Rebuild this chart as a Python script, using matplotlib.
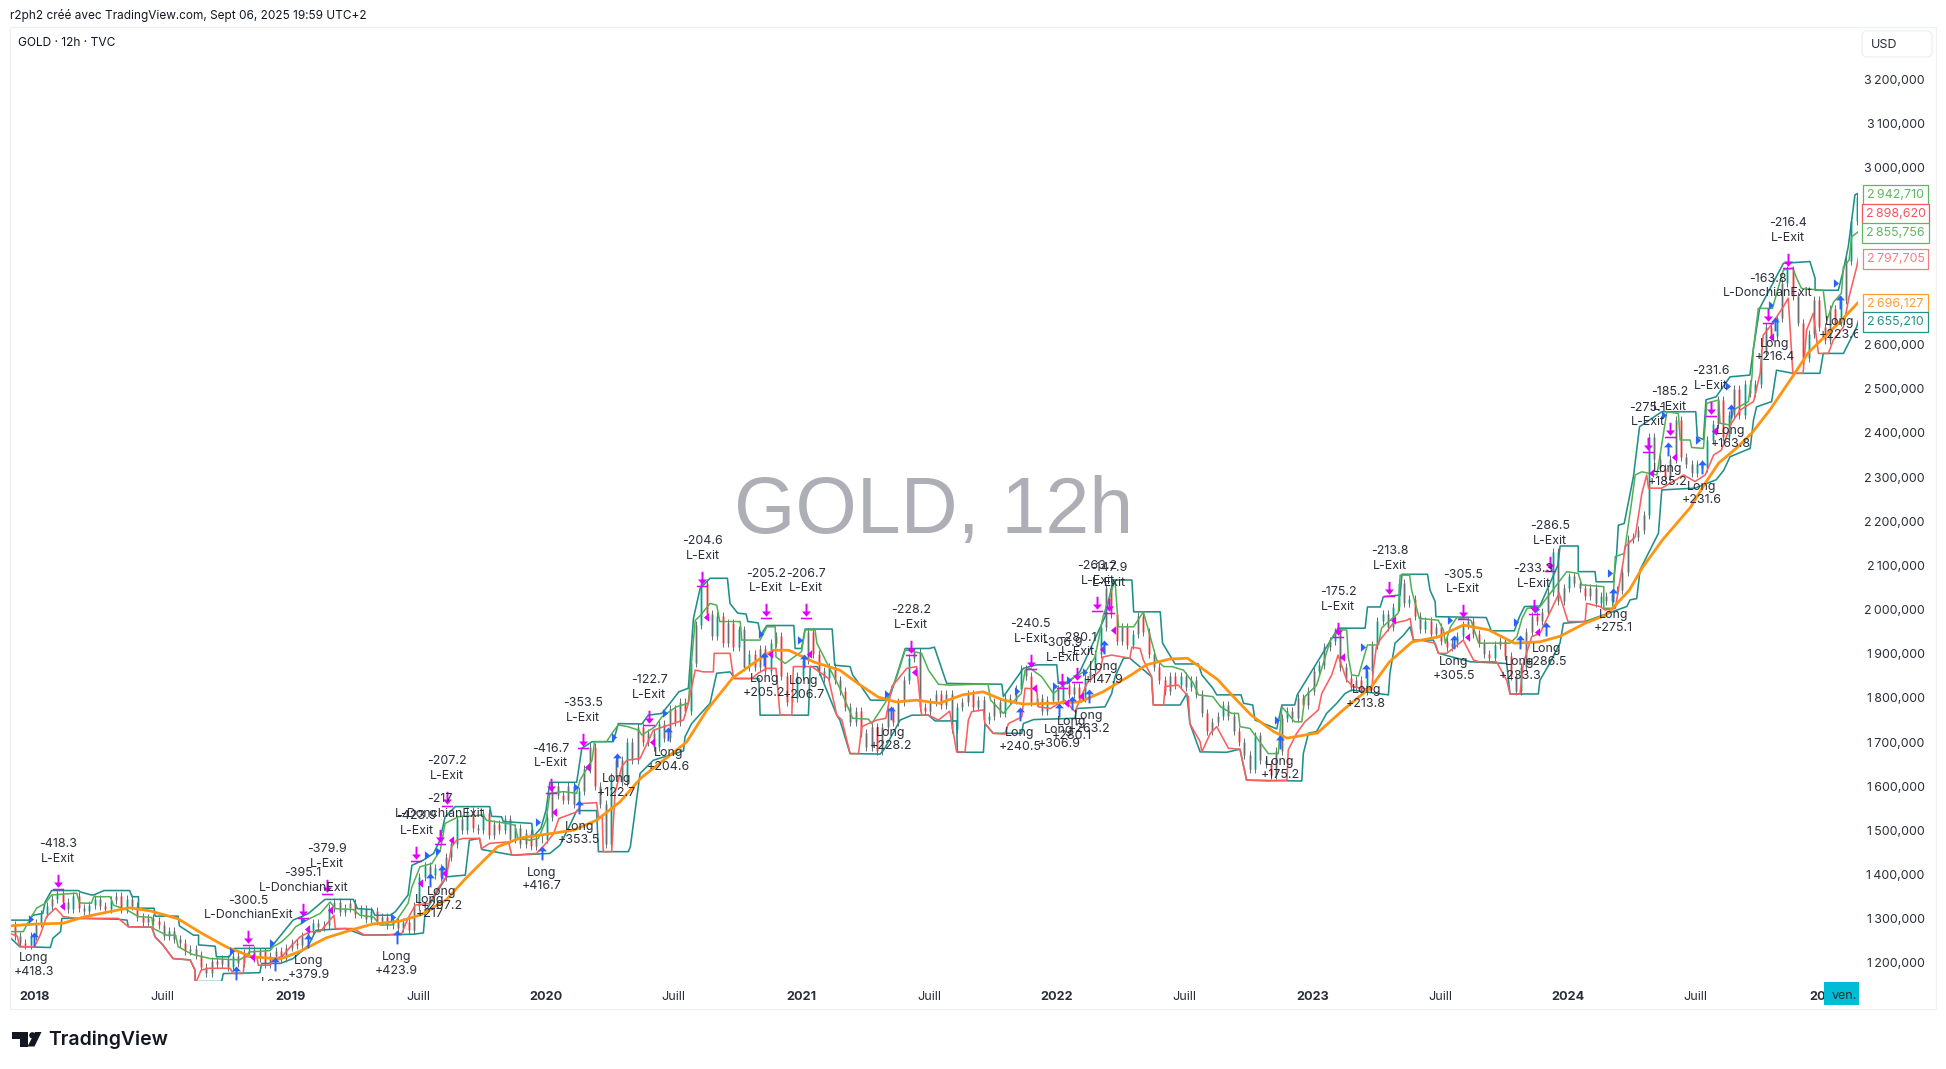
import numpy as np
import matplotlib
matplotlib.use('Agg')
import matplotlib.pyplot as plt
from matplotlib.path import Path
from matplotlib.patches import Rectangle, FancyBboxPatch, Circle, Polygon
from matplotlib.transforms import IdentityTransform

W, H = 1946, 1069
FONT = 'Inter'
plt.rcParams['font.family'] = [FONT, 'DejaVu Sans']

# ---- closing prices, four per month from the left edge of the chart
closes = [
 1285,1262,1245,1240, 1262,1290,1312,1330, 1345,1358,1338,1322, 1352,1325,1318,1332,
 1345,1328,1322,1342, 1352,1322,1345,1330, 1305,1292,1302,1295, 1285,1262,1272,1255,
 1245,1228,1232,1218, 1192,1178,1205,1198, 1208,1190,1215,1200, 1222,1230,1212,1226,
 1198,1215,1228,1212, 1235,1245,1240,1262, 1275,1290,1282,1285, 1325,1338,1315,1325,
 1335,1310,1322,1300, 1318,1295,1305,1285, 1298,1280,1292,1275, 1330,1395,1420,1400,
 1415,1395,1440,1470, 1525,1500,1545,1505, 1500,1540,1490,1515, 1500,1525,1480,1505,
 1470,1495,1465,1480, 1480,1530,1600,1580, 1570,1600,1560,1590, 1640,1690,1600,1560,
 1470,1620,1660,1610, 1700,1660,1735,1700, 1720,1690,1740,1710, 1775,1745,1790,1770,
 1880,1965,2060,1990, 1940,1985,1925,1970, 1915,1955,1870,1900, 1870,1910,1860,1925,
 1940,1850,1790,1800, 1850,1885,1950,1900, 1860,1845,1870,1840, 1815,1780,1745,1770,
 1720,1690,1735,1680, 1735,1770,1745,1790, 1840,1890,1905,1780, 1770,1790,1810,1785,
 1810,1730,1780,1790, 1810,1780,1795,1750, 1760,1790,1765,1800, 1795,1820,1865,1850,
 1790,1800,1770,1795, 1820,1795,1830,1810, 1825,1800,1845,1860, 1900,1960,2050,1990,
 1930,1960,1920,1945, 1985,1950,1900,1870, 1840,1815,1850,1830, 1850,1825,1840,1810,
 1765,1725,1745,1760, 1785,1760,1725,1700, 1670,1640,1715,1660, 1650,1625,1680,1755,
 1770,1755,1800,1785, 1815,1860,1875,1915, 1930,1950,1870,1845, 1825,1840,1815,1860,
 1920,1975,1990,1960, 2005,2060,2015,2025, 1985,1955,1975,1945, 1960,1930,1915,1925,
 1940,1965,1975,1945, 1925,1900,1890,1920, 1930,1895,1850,1815, 1870,1950,1985,1975,
 1995,2040,2130,2020, 2050,2075,2060,2050, 2030,2050,2015,2030, 2020,2035,2045,2085,
 2160,2165,2180,2215, 2390,2340,2320,2300, 2340,2430,2345,2330, 2310,2330,2320,2385,
 2420,2475,2390,2440, 2500,2440,2510,2490, 2510,2580,2640,2620, 2660,2740,2770,2710,
 2650,2570,2625,2700, 2640,2610,2680,2650, 2700,2790,2880,2935, 2898.62,
]
first_time = 2017.9
bars_per_year = 48

# ---- orange moving average
ma_t = [2017.90,2018.0,2018.11,2018.19,2018.29,2018.37,2018.45,2018.56,2018.65,2018.75,2018.85,2018.96,
        2019.04,2019.14,2019.24,2019.32,2019.43,2019.51,2019.61,2019.68,2019.81,2019.90,2020.03,2020.11,
        2020.20,2020.29,2020.37,2020.55,2020.63,2020.73,2020.84,2020.89,2020.95,2021.05,2021.15,2021.23,
        2021.30,2021.37,2021.45,2021.54,2021.63,2021.71,2021.79,2021.87,2021.98,2022.09,2022.18,2022.29,
        2022.35,2022.44,2022.51,2022.56,2022.63,2022.68,2022.76,2022.85,2022.90,2023.02,2023.12,2023.23,
        2023.30,2023.39,2023.49,2023.59,2023.69,2023.79,2023.89,2023.97,2024.07,2024.15,2024.24,2024.29,
        2024.37,2024.48,2024.54,2024.59,2024.66,2024.72,2024.79,2024.87,2024.94,2024.99,2025.06,2025.137]
ma_p = [1284,1288,1290,1304,1316,1325,1318,1300,1268,1236,1214,1209,
        1227,1257,1275,1288,1295,1309,1343,1388,1463,1483,1494,1501,
        1524,1565,1618,1700,1773,1845,1890,1908,1908,1881,1863,1829,
        1802,1791,1795,1788,1807,1814,1795,1786,1788,1791,1814,1852,
        1875,1888,1890,1870,1841,1809,1761,1723,1709,1721,1773,1825,
        1881,1927,1938,1965,1954,1924,1927,1940,1970,1988,2044,2094,
        2158,2232,2289,2332,2366,2400,2452,2520,2581,2610,2649,2696.127]

# ---- upper channel (teal)
up_t = [2017.90,2017.98,2017.99,2018.03,2018.04,2018.065,2018.17,2018.176,2018.22,2018.23,2018.27,2018.37,2018.38,2018.405,2018.405,2018.466,2018.47,2018.56,2018.565,2018.62,2018.64,2018.64,2018.705,2018.71,2018.76,2018.78,2018.92,2019.01,
        2019.07,2019.135,2019.246,2019.262,2019.32,2019.33,2019.39,2019.41,2019.43,2019.46,2019.475,2019.52,2019.56,2019.585,2019.605,2019.645,2019.78,2019.787,2019.826,2019.833,2019.944,2019.95,2019.98,2020.0,2020.015,2020.12,2020.14,2020.18,2020.263,2020.283,2020.375,
        2020.40,2020.453,2020.48,2020.52,2020.557,2020.577,2020.603,2020.642,2020.71,2020.72,2020.75,2020.783,2020.79,2020.83,2020.84,2020.864,2020.97,2020.975,2021.0,2021.014,2021.12,2021.13,2021.19,2021.2,2021.23,2021.27,2021.33,2021.35,2021.406,2021.50,
        2021.52,2021.568,2021.784,2021.79,2021.868,2021.92,2021.999,2022.005,2022.04,2022.09,2022.188,2022.22,2022.293,2022.30,2022.404,2022.413,2022.462,2022.553,2022.567,2022.61,2022.625,2022.72,2022.73,2022.766,2022.775,2022.86,2022.88,2022.93,2022.94,
        2023.10,2023.206,2023.215,2023.265,2023.277,2023.343,2023.35,2023.45,2023.46,2023.48,2023.483,2023.68,2023.70,2023.79,2023.81,2023.83,2023.89,2023.96,2023.969,2024.04,2024.04,2024.106,2024.11,2024.178,2024.19,2024.197,2024.22,2024.256,2024.28,2024.367,2024.50,2024.506,2024.53,2024.54,2024.58,2024.634,2024.712,2024.725,2024.75,2024.843,2024.947,2024.967,2024.967,2025.058,2025.078,2025.097,2025.123,2025.137]
up_p = [1297,1297,1308,1312,1339,1364,1364,1361,1354,1354,1364,1364,1350,1350,1324,1324,1306,1306,1284,1263,1263,1241,1238,1214,1214,1233,1233,1297,
        1312,1344,1344,1323,1321,1308,1308,1316,1331,1354,1421,1433,1448,1478,1531,1554,1554,1532,1531,1520,1516,1486,1505,1546,1609,1609,1686,1701,1701,1742,1741,
        1761,1765,1784,1814,1822,1980,2048,2071,2071,2014,1992,1990,1973,1970,1942,1964,1964,1912,1912,1956,1956,1874,1871,1852,1829,1795,1795,1810,1912,1912,
        1915,1833,1831,1803,1867,1875,1875,1833,1833,1860,1984,2067,2067,1995,1995,1924,1877,1877,1852,1822,1807,1807,1788,1784,1750,1730,1784,1784,1807,
        1958,1958,2006,2006,2029,2033,2080,2080,2044,2018,1984,1982,1952,1952,1984,2007,2008,2100,2144,2144,2086,2086,2063,2063,2124,2191,2195,2301,2414,2448,2448,2391,2385,2475,2482,2527,2531,2588,2682,2784,2788,2750,2723,2723,2769,2822,2939,2942.71]

# ---- inner line (green)
mid_t = [2017.90,2017.954,2017.974,2018.006,2018.04,2018.065,2018.163,2018.174,2018.22,2018.23,2018.294,2018.307,2018.36,2018.405,2018.457,2018.463,2018.515,2018.55,2018.56,2018.613,2018.685,2018.80,2018.82,2018.84,2018.92,2018.933,2018.966,2019.0,2019.02,2019.076,2019.116,
         2019.155,2019.175,2019.246,2019.272,2019.325,2019.35,2019.397,2019.416,2019.46,2019.475,2019.507,2019.553,2019.586,2019.605,2019.657,2019.754,2019.767,2019.846,2019.878,2019.89,2019.937,2019.97,2020.0,2020.015,2020.068,2020.12,2020.133,2020.18,2020.19,2020.237,2020.263,2020.283,2020.32,
         2020.362,2020.375,2020.427,2020.453,2020.51,2020.557,2020.57,2020.584,2020.60,2020.642,2020.668,2020.68,2020.76,2020.766,2020.838,2020.864,2020.897,2020.90,2020.936,2021.0,2021.014,2021.053,2021.06,2021.15,2021.2,2021.262,2021.275,2021.334,2021.373,2021.406,2021.47,2021.497,
         2021.536,2021.58,2021.68,2021.73,2021.74,2021.79,2021.823,2021.86,2021.875,2021.895,2021.94,2021.986,2022.05,2022.116,2022.149,2022.18,2022.227,2022.24,2022.30,2022.338,2022.39,2022.417,2022.45,2022.495,2022.534,2022.553,2022.61,2022.64,2022.684,2022.71,2022.716,2022.755,2022.827,2022.866,2022.88,2022.93,2022.958,2022.97,
         2023.016,2023.04,2023.07,2023.10,2023.134,2023.14,2023.153,2023.18,2023.215,2023.258,2023.27,2023.29,2023.336,2023.343,2023.38,2023.388,2023.418,2023.492,2023.512,2023.52,2023.54,2023.565,2023.62,2023.65,2023.68,2023.773,2023.80,2023.82,2023.84,2023.89,2023.995,2024.04,2024.054,2024.14,2024.14,2024.175,2024.185,2024.22,2024.25,2024.263,2024.289,2024.348,2024.387,2024.432,2024.439,2024.478,2024.484,2024.53,2024.543,2024.59,2024.595,2024.634,2024.647,2024.706,2024.72,2024.725,2024.745,2024.80,2024.843,2024.88,2024.895,2024.914,2024.999,2025.013,2025.04,2025.07,2025.078,2025.10,2025.11,2025.137]
mid_p = [1271,1271,1293,1324,1335,1354,1358,1336,1335,1350,1350,1331,1320,1305,1303,1278,1263,1263,1237,1220,1210,1207,1214,1225,1228,1237,1248,1267,1282,1301,1312,
         1338,1323,1321,1308,1304,1286,1286,1297,1335,1372,1418,1425,1455,1516,1531,1535,1523,1516,1512,1482,1478,1482,1523,1584,1588,1584,1614,1659,1701,1701,1724,1739,1735,
         1727,1716,1735,1757,1780,1788,1886,1976,1984,2014,2010,1973,1973,1931,1931,1961,1961,1893,1878,1905,1954,1954,1924,1822,1754,1752,1742,1795,1848,1909,1901,1863,
         1831,1829,1831,1831,1795,1765,1788,1810,1863,1867,1848,1810,1841,1863,1893,1984,2067,1961,1961,1995,1886,1871,1871,1863,1833,1807,1803,1780,1765,1765,1735,1731,1674,1674,1780,1746,1746,1803,
         1829,1874,1931,1954,1954,1893,1852,1850,1920,1920,1958,1969,1992,2078,2078,2044,1980,1976,1954,1924,1961,1982,1976,1924,1924,1924,1939,1980,2003,2006,2086,2082,2056,2052,2003,2003,2120,2127,2248,2305,2312,2305,2448,2444,2384,2384,2367,2365,2467,2475,2422,2418,2452,2471,2527,2588,2682,2682,2769,2773,2750,2727,2723,2655,2697,2716,2776,2791,2844,2855.756]

# ---- lower short channel (red)
low_t = [2017.90,2017.93,2017.94,2017.998,2018.02,2018.045,2018.08,2018.10,2018.11,2018.163,2018.326,2018.365,2018.457,2018.47,2018.50,2018.54,2018.607,2018.626,2018.626,2018.65,2018.68,2018.763,2018.776,2018.815,2018.82,2018.868,2018.874,2018.92,2018.933,2018.966,2019.0,2019.037,2019.076,2019.116,
         2019.17,2019.175,2019.246,2019.29,2019.377,2019.435,2019.46,2019.488,2019.546,2019.572,2019.61,2019.63,2019.65,2019.676,2019.74,2019.748,2019.78,2019.853,2019.866,2019.963,2020.0,2020.03,2020.05,2020.12,2020.14,2020.198,2020.205,2020.22,2020.224,2020.257,2020.27,2020.296,2020.316,2020.368,
         2020.42,2020.538,2020.557,2020.584,2020.616,2020.655,2020.658,2020.72,2020.734,2020.805,2020.83,2020.864,2020.90,2020.916,2020.962,2020.968,2021.04,2021.106,2021.138,2021.158,2021.19,2021.223,2021.236,2021.262,2021.295,2021.33,2021.354,2021.412,2021.451,2021.465,2021.47,2021.497,
         2021.536,2021.58,2021.607,2021.64,2021.653,2021.666,2021.712,2021.718,2021.75,2021.795,2021.81,2021.862,2021.875,2021.92,2021.927,2021.973,2022.03,2022.07,2022.117,2022.169,2022.18,2022.214,2022.285,2022.293,2022.325,2022.338,2022.37,2022.377,2022.417,2022.423,2022.475,2022.514,2022.52,2022.56,2022.567,2022.60,2022.625,2022.671,2022.716,2022.742,2022.827,2022.90,2022.905,2022.938,2022.97,
         2023.023,2023.036,2023.075,2023.10,2023.134,2023.16,2023.232,2023.238,2023.25,2023.264,2023.316,2023.369,2023.382,2023.395,2023.42,2023.48,2023.493,2023.525,2023.55,2023.59,2023.603,2023.63,2023.65,2023.72,2023.76,2023.773,2023.812,2023.825,2023.858,2023.89,2023.965,2024.0,2024.067,2024.073,2024.125,2024.145,2024.185,2024.217,2024.223,2024.263,2024.289,2024.308,2024.315,2024.367,2024.42,2024.452,2024.497,2024.537,2024.57,2024.60,2024.64,2024.674,2024.726,2024.752,2024.764,2024.80,2024.843,2024.862,2024.88,2024.92,2024.934,2024.96,2024.98,2025.019,2025.038,2025.078,2025.10,2025.13,2025.137]
low_p = [1267,1261,1237,1237,1263,1305,1324,1312,1305,1301,1301,1282,1281,1259,1241,1210,1207,1184,1150,1184,1188,1188,1176,1176,1214,1214,1195,1195,1210,1214,1237,1259,1271,1271,
         1308,1278,1278,1263,1263,1267,1301,1331,1335,1365,1395,1463,1478,1482,1482,1459,1471,1474,1444,1448,1471,1493,1527,1542,1561,1563,1531,1531,1452,1452,1584,1644,1659,1663,
         1727,1750,1788,1863,1859,1859,1901,1901,1844,1844,1856,1867,1867,1761,1761,1871,1871,1844,1761,1750,1674,1674,1735,1742,1750,1754,1826,1867,1871,1788,1761,1761,
         1750,1770,1678,1678,1750,1769,1773,1742,1720,1718,1742,1757,1822,1820,1780,1776,1795,1769,1833,1863,1893,1897,1890,1915,1912,1886,1848,1784,1784,1826,1829,1803,1742,1701,1678,1720,1735,1686,1684,1614,1612,1614,1682,1720,1746,
         1773,1810,1852,1897,1840,1825,1818,1863,1916,1931,1969,1976,1980,1931,1931,1924,1901,1901,1912,1931,1916,1886,1882,1882,1840,1809,1809,1878,1939,1946,2037,1973,1973,2014,2007,1999,2003,2112,2142,2165,2263,2305,2275,2275,2293,2305,2290,2305,2350,2361,2422,2452,2471,2535,2621,2648,2686,2705,2535,2535,2633,2671,2580,2580,2610,2640,2708,2776,2797.705]

# ---- lower channel (teal)
bot_t = [2017.90,2017.94,2018.06,2018.07,2018.10,2018.105,2018.17,2018.326,2018.36,2018.365,2018.457,2018.47,2018.50,2018.54,2018.607,2018.626,2018.626,2018.73,2018.737,2018.88,2018.887,2018.96,2019.01,2019.07,2019.10,2019.215,2019.285,2019.48,2019.52,2019.527,2019.61,2019.684,2019.70,2019.74,2019.748,2019.872,2020.015,2020.055,2020.10,2020.12,2020.198,2020.205,2020.322,
         2020.33,2020.368,2020.42,2020.538,2020.544,2020.57,2020.642,2020.668,2020.72,2020.74,2020.833,2020.838,2021.027,2021.034,2021.061,2021.138,2021.15,2021.19,2021.308,2021.325,2021.386,2021.432,2021.497,2021.523,2021.607,2021.61,2021.712,2021.718,2021.75,2021.862,2021.868,2021.908,2022.07,2022.077,2022.188,2022.214,2022.227,2022.26,2022.285,2022.37,2022.377,2022.482,2022.508,2022.52,2022.56,2022.664,2022.716,2022.742,2022.958,2022.964,2022.984,
         2023.016,2023.055,2023.095,2023.127,2023.153,2023.297,2023.303,2023.323,2023.356,2023.382,2023.395,2023.473,2023.493,2023.617,2023.76,2023.773,2023.884,2023.89,2023.93,2023.969,2023.982,2024.067,2024.23,2024.243,2024.269,2024.282,2024.328,2024.354,2024.367,2024.497,2024.58,2024.61,2024.634,2024.713,2024.726,2024.738,2024.797,2024.816,2024.88,2024.986,2024.999,2025.078,2025.13,2025.137]
bot_p = [1259,1237,1235,1256,1271,1301,1301,1299,1297,1282,1281,1259,1241,1210,1207,1184,1158,1158,1176,1178,1199,1199,1210,1240,1274,1278,1263,1265,1268,1316,1395,1399,1478,1482,1457,1444,1448,1467,1520,1545,1545,1452,1452,
         1463,1629,1659,1680,1712,1742,1788,1856,1859,1844,1844,1761,1761,1871,1871,1761,1750,1674,1673,1685,1750,1761,1761,1748,1748,1677,1677,1742,1720,1720,1742,1751,1754,1776,1780,1810,1848,1890,1890,1848,1784,1784,1810,1742,1678,1677,1684,1614,1612,1674,1720,
         1724,1765,1788,1810,1818,1807,1856,1924,1942,1961,1931,1931,1901,1882,1878,1809,1809,1840,1880,1925,1969,1973,2007,2022,2025,2090,2143,2173,2271,2275,2294,2316,2346,2365,2429,2459,2471,2542,2535,2535,2580,2580,2640,2655.21]

# ---- trades
exit_times = [2018.09,2018.835,2019.05,2019.142,2019.493,2019.585,2019.613,2020.018,2020.146,2020.404,2020.612,2020.862,2021.017,2021.428,
              2021.897,2022.021,2022.08,2022.158,2022.204,2023.101,2023.301,2023.59,2023.865,2023.93,2024.312,2024.40,2024.558,2024.781,2024.86]
exit_prices = [1368,1240,1302,1357,1431,1469,1555,1584,1687,1739,2054,1980,1980,1897,
               1866,1823,1835,1997,1993,1939,2031,1978,1990,2087,2356,2391,2439,2648,2773]
exit_amounts = ['-418.3','-300.5','-395.1','-379.9','-423.9','-217','-207.2','-416.7','-353.5','-122.7','-204.6','-205.2','-206.7','-228.2',
                '-240.5','-306.9','-280.1','-263.2','-147.9','-175.2','-213.8','-305.5','-233.3','-286.5','-275.1','-185.2','-231.6','-163.8','-216.4']
exit_names = ['L-Exit','L-DonchianExit','L-DonchianExit','L-Exit','L-Exit','L-DonchianExit','L-Exit','L-Exit','L-Exit','L-Exit','L-Exit','L-Exit','L-Exit','L-Exit',
              'L-Exit','L-Exit','L-Exit','L-Exit','L-Exit','L-Exit','L-Exit','L-Exit','L-Exit','L-Exit','L-Exit','L-Exit','L-Exit','L-DonchianExit','L-Exit']

entry_times = [2017.996,2018.787,2018.94,2019.07,2019.415,2019.546,2019.592,2019.983,2020.13,2020.276,2020.479,2020.854,2021.008,2021.35,
               2021.855,2022.008,2022.058,2022.125,2022.182,2022.873,2023.21,2023.554,2023.812,2023.915,2024.178,2024.39,2024.524,2024.638,2024.81,2025.065]
entry_prices = [1271,1194,1214,1265,1274,1403,1421,1465,1569,1676,1735,1903,1899,1782,
                1780,1788,1805,1820,1931,1716,1878,1942,1942,1972,2049,2379,2339,2465,2662,2712]
entry_amounts = ['+418.3','+300.5','+395.1','+379.9','+423.9','+217','+207.2','+416.7','+353.5','+122.7','+204.6','+205.2','+206.7','+228.2',
                 '+240.5','+306.9','+280.1','+263.2','+147.9','+175.2','+213.8','+305.5','+233.3','+286.5','+275.1','+185.2','+231.6','+163.8','+216.4','+223.6']

blue_t = [2017.983,2018.77,2018.926,2019.05,2019.40,2019.533,2019.578,2019.97,2020.117,2020.266,2020.466,2020.84,2020.995,2021.334,
          2021.845,2021.992,2022.045,2022.11,2022.86,2023.196,2023.538,2023.797,2023.88,2024.165,2024.376,2024.508,2024.625,2024.794,2025.05]
blue_p = [1299,1228,1246,1297,1304,1444,1454,1519,1599,1711,1765,1945,1931,1810,
          1816,1826,1841,1858,1751,1916,1976,1973,2002,2082,2441,2384,2506,2689,2740]
violet_t = [2018.104,2018.85,2019.064,2019.155,2019.507,2019.6,2019.628,2020.032,2020.159,2020.414,2020.625,2020.877,2021.031,2021.44,
            2021.91,2022.034,2022.093,2022.175,2022.218,2023.114,2023.314,2023.604,2023.878,2024.324,2024.415,2024.573,2024.794]
violet_p = [1329,1213,1276,1320,1380,1404,1478,1541,1644,1701,1984,1899,1899,1858,
            1822,1788,1805,1911,1954,1893,1976,1939,1950,2310,2346,2405,2618]

# ---- axes labels and last values
price_ticks = list(range(1200, 3300, 100))
year_ticks = [2018,2019,2020,2021,2022,2023,2024,2025.01]
year_labels = ['2018','2019','2020','2021','2022','2023','2024','2025']
july_ticks = [2018.5,2019.5,2020.5,2021.5,2022.5,2023.5,2024.5]
last_values = [2942.710,2898.620,2855.756,2797.705,2696.127,2655.210]
last_colors = ['#5cb860','#f7525f','#5cb860','#f77c80','#ff9d2e','#22918a']

TEAL, GREEN, RED, ORANGE = '#1f8f8a', '#4fb054', '#fa5f5f', '#ff9410'
BLUE, VIOLET = '#2962ff', '#e000fb'
INK = '#2a2e39'

fig = plt.figure(figsize=(W/100, H/100), dpi=100, facecolor='white')
L, R, T, B = 10, 1858, 27, 981
ax = fig.add_axes([L/W, 1-B/H, (R-L)/W, (B-T)/H])
ax.set_xlim(2017.902, 2025.135)
ax.set_ylim(1159.2, 3319)
for s in ax.spines.values():
    s.set_visible(False)

def fmt(v):
    s = f'{v:,.3f}'
    whole, dec = s.split('.')
    return whole.replace(',', '\u2009') + ',' + dec

# watermark
ax.text(0.4995, 0.491, 'GOLD, 12h', transform=ax.transAxes, ha='center', va='center',
        fontsize=56.8, color='#aeafb6', family='Liberation Sans', zorder=0.5)

# candles
c = np.array(closes, dtype=float)
x = first_time + np.arange(len(c)) / bars_per_year
o = np.r_[c[0], c[:-1]]
up = c >= o
ax.vlines(x[up], o[up], c[up], color='#8fd6cc', lw=2.0, zorder=2)
ax.vlines(x[~up], c[~up], o[~up], color='#f6a3a3', lw=2.0, zorder=2)
ax.vlines(x, np.minimum(o, c)-9, np.maximum(o, c)+9, color='#666c70', lw=0.7, zorder=2.2)

# channels
ax.plot(up_t, up_p, color=TEAL, lw=1.15, zorder=3, solid_joinstyle='round')
ax.plot(bot_t, bot_p, color=TEAL, lw=1.15, zorder=3, solid_joinstyle='round')
ax.plot(mid_t, mid_p, color=GREEN, lw=1.1, zorder=3.2)
ax.plot(low_t, low_p, color=RED, lw=1.15, zorder=3.2)
ax.plot(ma_t, ma_p, color=ORANGE, lw=2.0, zorder=3.4, solid_capstyle='round')

# marker shapes
up_arrow = Path([(0,0),(.64,-.7),(.14,-.7),(.14,-2),(-.14,-2),(-.14,-.7),(-.64,-.7),(0,0)], closed=True)
bar_v = [(-.8,-.11),(.8,-.11),(.8,.11),(-.8,.11),(-.8,-.11)]
arr_v = [(0,.25),(.64,1.0),(.14,1.0),(.14,2.1),(-.14,2.1),(-.14,1.0),(-.64,1.0),(0,.25)]
exit_mark = Path(bar_v + arr_v, [Path.MOVETO]+[Path.LINETO]*3+[Path.CLOSEPOLY]+[Path.MOVETO]+[Path.LINETO]*6+[Path.CLOSEPOLY])
tri_r = Path([(-.6,1),(.6,0),(-.6,-1),(-.6,1)], closed=True)
tri_l = Path([(.6,1),(-.6,0),(.6,-1),(.6,1)], closed=True)

ax.plot(blue_t, blue_p, ls='', marker=tri_r, ms=6.2, mfc=BLUE, mec='none', zorder=5)
ax.plot(violet_t, violet_p, ls='', marker=tri_l, ms=6.2, mfc=VIOLET, mec='none', zorder=5)
ax.plot(entry_times, entry_prices, ls='', marker=up_arrow, ms=20, mfc=BLUE, mec='none', zorder=5)
ax.plot(exit_times, exit_prices, ls='', marker=exit_mark, ms=21.2, mfc=VIOLET, mec='none', zorder=5)

TXT = dict(ha='center', va='center', fontsize=8.95, color=INK, zorder=6, clip_on=True, textcoords='offset points')
for t, p, a, n in zip(exit_times, exit_prices, exit_amounts, exit_names):
    ax.annotate(a, (t, p), xytext=(0, 32.2), **TXT)
    ax.annotate(n, (t, p), xytext=(0, 21.6), **TXT)
for t, p, a in zip(entry_times, entry_prices, entry_amounts):
    ax.annotate('Long', (t, p), xytext=(0, -19.2), **TXT)
    ax.annotate(a, (t, p), xytext=(0, -29), **TXT)

# price axis
ax.yaxis.tick_right()
ax.set_yticks(price_ticks)
ax.set_yticklabels([fmt(p) for p in price_ticks])
ax.tick_params(axis='y', length=0, pad=48, labelsize=8.95, labelcolor=INK)
for lb in ax.get_yticklabels():
    lb.set_ha('right')

# time axis
ax.set_xticks(year_ticks + july_ticks)
ax.set_xticklabels(year_labels + ['Juill']*len(july_ticks))
ax.tick_params(axis='x', length=0, pad=7.5, labelsize=9.1, labelcolor=INK)
for lb in ax.get_xticklabels():
    if lb.get_text() != 'Juill':
        lb.set_fontweight('bold')

# last-value tags
pxT = IdentityTransform()
for v, col in zip(last_values, last_colors):
    ax.text(1.0203, v, fmt(v), transform=ax.get_yaxis_transform(), ha='center', va='center_baseline',
            fontsize=8.95, color=col, clip_on=False, zorder=8,
            bbox=dict(boxstyle='square,pad=0.32', fc='white', ec=col, lw=0.9))

def Y(y):
    return H - y

# pane frame
fig.add_artist(Rectangle((10, Y(1008.5)), 1926, 981.5, fill=False, ec='#eef0f5', lw=0.9, transform=pxT))
# USD box
fig.add_artist(FancyBboxPatch((1865, Y(54)), 64, 20, boxstyle='round,pad=3,rounding_size=5', fc='white',
                              ec='#eef0f5', lw=0.9, transform=pxT))
fig.text(1884/W, 1-44.5/H, 'USD', ha='center', va='center', fontsize=9, color=INK)
# crosshair time tag
fig.add_artist(Rectangle((1824, Y(1005)), 35, 23, fc='#00bcd4', ec='none', transform=pxT, zorder=10))
fig.text(1844/W, 1-996/H, 'ven.', ha='center', va='center', fontsize=9, color=INK, zorder=11)

# header
fig.text(10/W, 1-16/H, 'r2ph2 créé avec TradingView.com, Sept 06, 2025 19:59 UTC+2', ha='left', va='center', fontsize=8.5, color='#131722')
fig.text(18/W, 1-43/H, 'GOLD · 12h · TVC', ha='left', va='center', fontsize=8.6, color='#131722')

# brand
K = '#131722'
fig.add_artist(Polygon([(12.3,Y(1032)),(28,Y(1032)),(28,Y(1046.5)),(20,Y(1046.5)),(20,Y(1038.5)),(12.3,Y(1038.5))], fc=K, ec='none', transform=pxT))
fig.add_artist(Circle((32.3,Y(1035.3)), 3.1, fc=K, ec='none', transform=pxT))
fig.add_artist(Polygon([(41.5,Y(1032)),(34.5,Y(1046.5)),(27.5,Y(1046.5)),(35,Y(1032))], fc=K, ec='none', transform=pxT))
fig.text(48/W, 1-1040/H, 'TradingView', ha='left', va='center', fontsize=14, fontweight='semibold', color=K)

fig.savefig('out.png', dpi=100, facecolor='white')
